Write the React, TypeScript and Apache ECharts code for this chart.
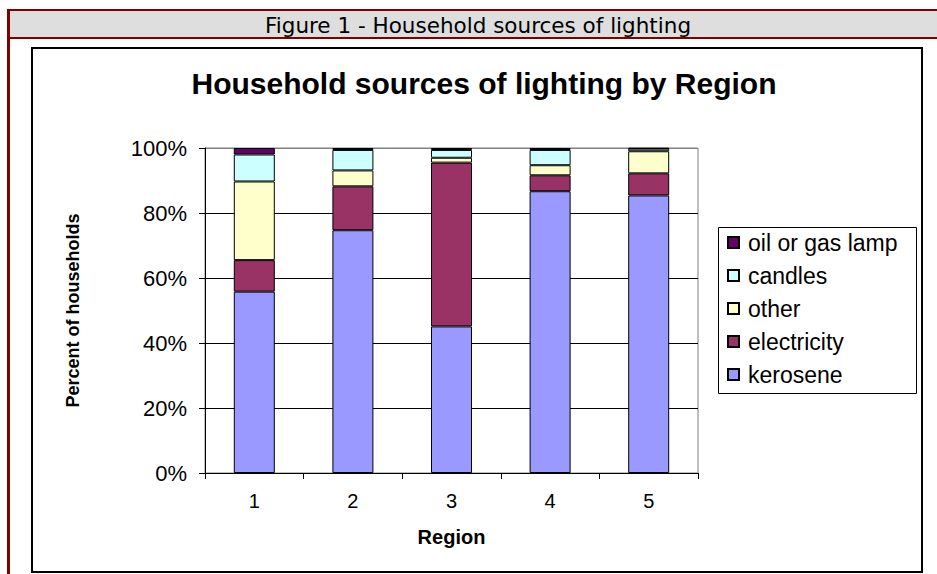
import React, { useEffect, useRef } from "react";
import * as echarts from "echarts";

// Percent of households by main source of lighting, per region
const regions = ["1", "2", "3", "4", "5"];
const kerosene = [55.8, 74.7, 45.1, 86.7, 85.4];
const electricity = [9.7, 13.5, 50.4, 4.9, 6.8];
const other = [24.2, 4.9, 1.5, 3.1, 6.8];
const candles = [8.3, 6.3, 2.4, 4.7, 0.8];
const oilOrGasLamp = [2.0, 0.6, 0.6, 0.6, 0.2];

const yTicks = [0, 20, 40, 60, 80, 100];

const seriesDefs = [
  { name: "kerosene", data: kerosene, color: "#9999FF" },
  { name: "electricity", data: electricity, color: "#993366" },
  { name: "other", data: other, color: "#FFFFCC" },
  { name: "candles", data: candles, color: "#CCFFFF" },
  { name: "oil or gas lamp", data: oilOrGasLamp, color: "#660066" },
];

const legendOrder = ["oil or gas lamp", "candles", "other", "electricity", "kerosene"];

const FONT = "'Liberation Sans', Arial, sans-serif";

export default function App() {
  const ref = useRef<HTMLDivElement>(null);

  useEffect(() => {
    if (!ref.current) return;
    const chart = echarts.init(ref.current, null, { renderer: "svg" });

    const option = {
      animation: false,
      backgroundColor: "#ffffff",
      textStyle: { fontFamily: FONT },
      title: {
        text: "Household sources of lighting by Region",
        left: 479,
        textAlign: "center",
        top: 63,
        textStyle: { fontFamily: FONT, fontSize: 30, fontWeight: "bold", color: "#000" },
      },
      graphic: [
        // page frame: red borders with grey caption band
        { type: "rect", shape: { x: 10, y: 11, width: 927, height: 26 }, style: { fill: "#DEDEDE" }, silent: true },
        { type: "rect", shape: { x: 7, y: 9, width: 930, height: 2 }, style: { fill: "#800000" }, silent: true },
        { type: "rect", shape: { x: 7, y: 37, width: 930, height: 2 }, style: { fill: "#800000" }, silent: true },
        { type: "rect", shape: { x: 7, y: 9, width: 3, height: 565 }, style: { fill: "#800000" }, silent: true },
        {
          type: "text",
          x: 478,
          y: 25,
          style: {
            text: "Figure 1 - Household sources of lighting",
            fill: "#000",
            font: "21.5px 'DejaVu Sans', Verdana, sans-serif",
            textAlign: "center",
            textVerticalAlign: "middle",
          },
          silent: true,
        },
        // chart border
        {
          type: "rect",
          shape: { x: 32, y: 48, width: 890, height: 524 },
          style: { fill: "none", stroke: "#000", lineWidth: 2 },
          silent: true,
        },
        // legend border
        {
          type: "rect",
          shape: { x: 718.5, y: 227.5, width: 198, height: 166 },
          style: { fill: "#fff", stroke: "#000", lineWidth: 1 },
          silent: true,
        },
      ],
      legend: {
        data: legendOrder,
        orient: "vertical",
        left: 722,
        top: 226,
        itemWidth: 11,
        itemHeight: 11,
        itemGap: 10,
        icon: "rect",
        textStyle: { fontFamily: FONT, fontSize: 23, color: "#000", lineHeight: 23, padding: [0, 0, 0, 4] },
        z: 10,
      },
      grid: {
        left: 205,
        top: 148,
        width: 493,
        height: 325,
        show: true,
        borderColor: "#808080",
        borderWidth: 1,
        backgroundColor: "transparent",
      },
      xAxis: {
        type: "category",
        data: regions,
        name: "Region",
        nameLocation: "middle",
        nameGap: 54,
        nameTextStyle: { fontFamily: FONT, fontSize: 20, fontWeight: "bold", color: "#000" },
        axisLine: { lineStyle: { color: "#000", width: 1 } },
        axisTick: { show: true, length: 6, alignWithLabel: false, lineStyle: { color: "#000" } },
        axisLabel: { fontFamily: FONT, fontSize: 20, color: "#000", margin: 18 },
      },
      yAxis: {
        type: "value",
        min: yTicks[0],
        max: yTicks[yTicks.length - 1],
        interval: 20,
        name: "Percent of households",
        nameLocation: "middle",
        nameRotate: 90,
        nameGap: 123,
        nameTextStyle: { fontFamily: FONT, fontSize: 18, fontWeight: "bold", color: "#000" },
        axisLine: { show: true, lineStyle: { color: "#000", width: 1 } },
        axisTick: { show: true, length: 6, lineStyle: { color: "#000" } },
        axisLabel: { fontFamily: FONT, fontSize: 22, color: "#000", margin: 18, formatter: "{value}%" },
        splitLine: {
          show: true,
          lineStyle: { color: ["#000", "#000", "#000", "#000", "#000", "#808080"], width: 1 },
        },
      },
      series: seriesDefs.map((s) => ({
        name: s.name,
        type: "bar",
        stack: "total",
        barWidth: 41,
        data: s.data,
        itemStyle: { color: s.color, borderColor: "#000", borderWidth: 1 },
        emphasis: { disabled: true },
      })),
    };

    chart.setOption(option as any);
    return () => chart.dispose();
  }, []);

  return (
    <div
      ref={ref}
      style={{ position: "absolute", left: 0, top: 0, width: 937, height: 574 }}
    />
  );
}
